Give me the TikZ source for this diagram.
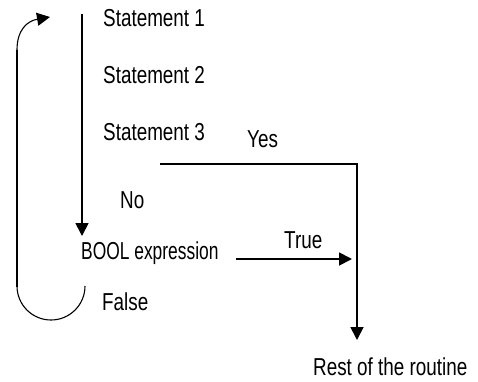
\documentclass[tikz,border=0pt]{standalone}
\usepackage{fontspec}
\setmainfont{Liberation Sans}[FakeStretch=0.77]
\newfontfamily\narrowfont{Liberation Sans}[FakeStretch=0.71]
\usetikzlibrary{arrows.meta}
\begin{document}
\begin{tikzpicture}[x=1pt,y=-1pt,
  lbl/.style={anchor=base west,inner sep=0pt,font=\fontsize{24.5}{28}\selectfont},
  flow/.style={line width=1.8pt,-{Triangle[length=13pt,width=13pt]}},
  plain/.style={line width=1.8pt},
  loop/.style={line width=1.1pt}]
\useasboundingbox (0,0) rectangle (478,381);
% texts
\node[lbl] (s1) at (103,26) {Statement 1};
\node[lbl] (s2) at (103,83) {Statement 2};
\node[lbl] (s3) at (103,140) {Statement 3};
\node[lbl] (yes) at (247,147) {Yes};
\node[lbl] (no) at (120,208) {No};
\node[lbl,font=\narrowfont\fontsize{24.5}{28}\selectfont] (bool) at (81,259) {BOOL expression};
\node[lbl] (true) at (284,248) {True};
\node[lbl] (false) at (102,310) {False};
\node[lbl] (rest) at (313,375) {Rest of the routine};
% coordinates
\coordinate (mtop) at (82,14);
\coordinate (mend) at (82,236);
\coordinate (ystart) at (160,164);
\coordinate (ycorner) at (357,164);
\coordinate (yend) at (357,340);
\coordinate (tstart) at (236,259);
\coordinate (tend) at (352,259);
\coordinate (lbot) at (17,287);
\coordinate (ltop) at (17,50);
\coordinate (ltip) at (50,17);
\coordinate (rend) at (85,286);
% connectors
\draw[flow] (mtop) -- (mend);
\draw[flow] (ystart) -- (ycorner) -- (yend);
\draw[flow] (tstart) -- (tend);
\draw[plain] (lbot) -- (ltop);
\draw[loop,-{Triangle[length=13pt,width=13pt]}] (ltop) .. controls (17,30) and (27,21) .. (ltip);
\draw[loop] (rend) arc[start angle=0,end angle=180,radius=34];
\end{tikzpicture}
\end{document}
